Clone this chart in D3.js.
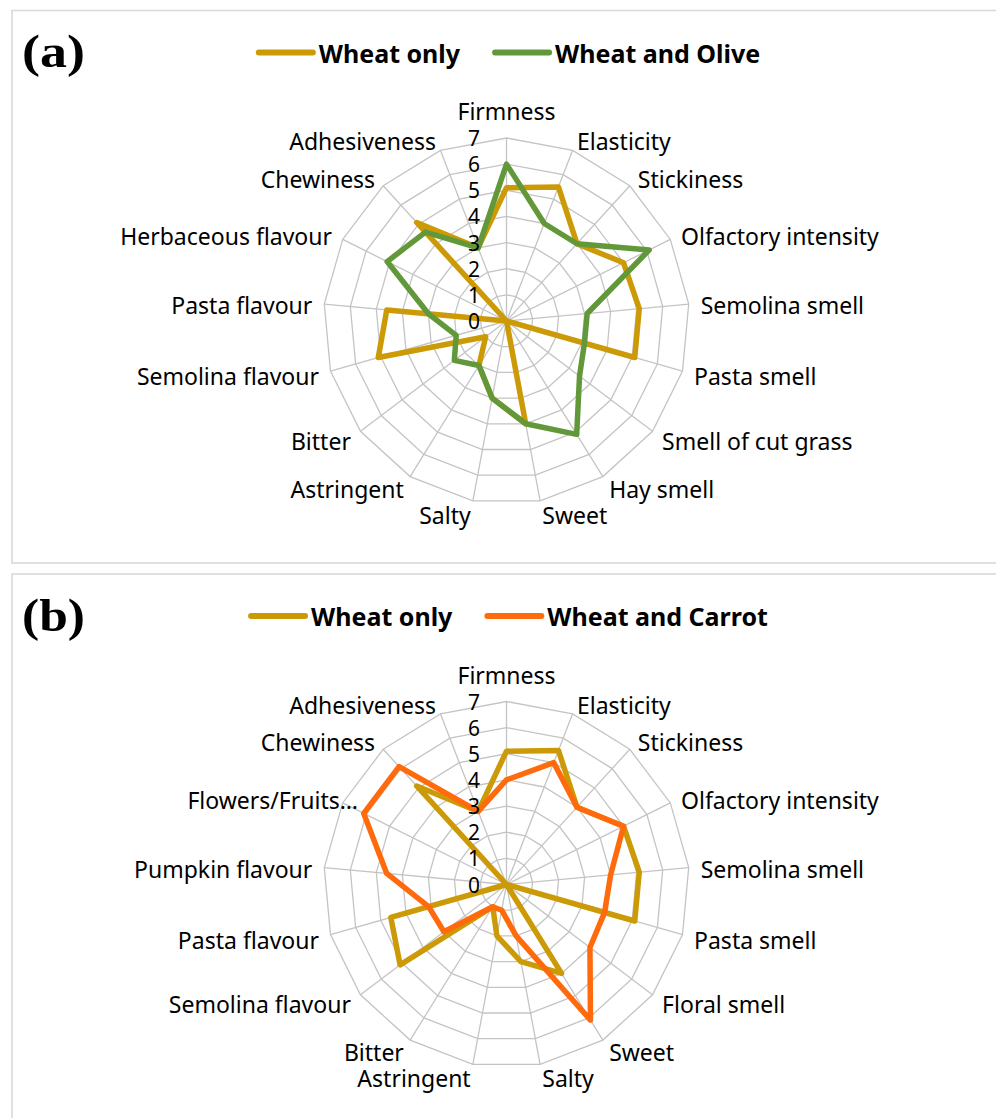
<!DOCTYPE html>
<html>
<head>
<meta charset="utf-8">
<script src="https://cdn.jsdelivr.net/npm/d3@7"></script>
<style>
  html, body { margin: 0; padding: 0; background: #ffffff; }
  svg { display: block; }
</style>
</head>
<body>
<script>
// Sensory profiles (0–7 scale) of the pasta samples
const axesA = ["Firmness", "Elasticity", "Stickiness", "Olfactory intensity", "Semolina smell",
  "Pasta smell", "Smell of cut grass", "Hay smell", "Sweet", "Salty", "Astringent", "Bitter",
  "Semolina flavour", "Pasta flavour", "Herbaceous flavour", "Chewiness", "Adhesiveness"];
const wheatOnlyA  = [5.1, 5.5, 4.0, 5.0, 5.1, 5.1, 0, 0, 4.0, 3.0, 2.0, 1.0, 5.1, 4.6, 0, 5.1, 3.0];
const wheatOliveA = [6.0, 4.0, 4.0, 6.1, 3.1, 3.1, 3.5, 5.1, 4.0, 3.0, 2.0, 2.5, 2.0, 3.0, 5.1, 4.6, 3.0];

const axesB = ["Firmness", "Elasticity", "Stickiness", "Olfactory intensity", "Semolina smell",
  "Pasta smell", "Floral smell", "Sweet", "Salty", "Astringent", "Bitter", "Semolina flavour",
  "Pasta flavour", "Pumpkin flavour", "Flowers/Fruits…", "Chewiness", "Adhesiveness"];
const wheatOnlyB   = [5.1, 5.5, 4.0, 5.0, 5.1, 5.1, 0, 4.0, 3.0, 2.0, 1.0, 5.1, 4.6, 0, 0, 5.1, 3.0];
const wheatCarrotB = [4.0, 5.0, 4.0, 5.0, 4.0, 3.9, 4.0, 6.1, 2.0, 1.0, 1.0, 3.0, 3.1, 4.6, 6.1, 6.1, 3.0];

const scaleTicks = [0, 1, 2, 3, 4, 5, 6, 7];

const GOLD = "#CC9A06", GREEN = "#62983A", ORANGE = "#FF6A0C";

const panels = [
  { tag: "(a)", top: 10.5, bottom: 563, axes: axesA,
    series: [ { name: "Wheat only", values: wheatOnlyA, color: GOLD },
              { name: "Wheat and Olive", values: wheatOliveA, color: GREEN } ] },
  { tag: "(b)", top: 574, bottom: 1130, axes: axesB,
    series: [ { name: "Wheat only", values: wheatOnlyB, color: GOLD },
              { name: "Wheat and Carrot", values: wheatCarrotB, color: ORANGE } ] }
];

const W = 996, H = 1118;
const R = 183;
const FONT = "'Noto Sans', 'Open Sans', sans-serif";

const svg = d3.select("body").append("svg")
  .attr("width", W).attr("height", H)
  .attr("viewBox", `0 0 ${W} ${H}`);

svg.append("rect").attr("width", W).attr("height", H).attr("fill", "#fff");

const r = d3.scaleLinear().domain([0, 7]).range([0, R]);

// a label that does not fit is shifted towards the plot
const labelNudge = { "Flowers/Fruits…": 26 };

panels.forEach(p => {
  const n = p.axes.length;
  const step = 2 * Math.PI / n;
  const cx = 506.5, cy = p.top + 310.5;

  // panel frame
  svg.append("rect")
    .attr("x", 12).attr("y", p.top)
    .attr("width", W + 20).attr("height", p.bottom - p.top)
    .attr("fill", "none").attr("stroke", "#d9d9d9").attr("stroke-width", 1.6);

  // panel tag
  svg.append("text")
    .attr("x", 22).attr("y", p.top + 41)
    .attr("dominant-baseline", "central")
    .attr("font-family", "'Liberation Serif', 'Times New Roman', serif")
    .attr("font-weight", "bold").attr("font-size", 46)
    .attr("textLength", 63).attr("lengthAdjust", "spacingAndGlyphs")
    .text(p.tag);

  // legend, centred over the radar
  const lg = svg.append("g");
  let x = 0;
  p.series.forEach(s => {
    const g = lg.append("g");
    g.append("line")
      .attr("x1", 3).attr("x2", 57).attr("y1", 0).attr("y2", 0)
      .attr("stroke", s.color).attr("stroke-width", 6).attr("stroke-linecap", "round");
    const t = g.append("text")
      .attr("x", 63).attr("y", 0)
      .attr("dominant-baseline", "central")
      .attr("font-family", FONT).attr("font-weight", "bold").attr("font-size", 25)
      .attr("fill", "#000")
      .text(s.name);
    const w = 63 + t.node().getComputedTextLength();
    g.attr("transform", `translate(${x},0)`);
    x += w + 32;
  });
  const total = x - 32;
  lg.attr("transform", `translate(${508 - total / 2},${p.top + 42})`);

  const chart = svg.append("g").attr("transform", `translate(${cx},${cy})`);

  // concentric rings
  const ring = d3.lineRadial()
    .angle((d, i) => i * step)
    .radius(d => r(d))
    .curve(d3.curveLinearClosed);
  chart.append("g").selectAll("path")
    .data(scaleTicks.filter(t => t > 0))
    .join("path")
      .attr("d", t => ring(d3.range(n).map(() => t)))
      .attr("fill", "none").attr("stroke", "#c4c4c4").attr("stroke-width", 1.3);

  // spokes
  chart.append("g").selectAll("line")
    .data(d3.range(n))
    .join("line")
      .attr("x1", 0).attr("y1", 0)
      .attr("x2", i => r(7) * Math.sin(i * step))
      .attr("y2", i => -r(7) * Math.cos(i * step))
      .attr("stroke", "#c4c4c4").attr("stroke-width", 1.3);

  // series polygons
  const line = d3.lineRadial()
    .angle((d, i) => i * step)
    .radius(d => r(d))
    .curve(d3.curveLinearClosed);
  p.series.forEach(s => {
    chart.append("path")
      .attr("d", line(s.values))
      .attr("fill", "none").attr("stroke", s.color)
      .attr("stroke-width", 5.5).attr("stroke-linejoin", "round");
  });

  // scale values along the top spoke
  chart.append("g").selectAll("text")
    .data(scaleTicks)
    .join("text")
      .attr("x", -26.5).attr("y", t => -r(t))
      .attr("text-anchor", "end").attr("dominant-baseline", "central")
      .attr("font-family", FONT).attr("font-size", 21).attr("fill", "#000")
      .text(t => t);

  // category labels
  chart.append("g").selectAll("text")
    .data(p.axes)
    .join("text")
      .each(function (name, i) {
        const a = i * step, s = Math.sin(a), c = Math.cos(a);
        const rr = R + 12;
        let px = rr * s, py = -rr * c + 2, anchor;
        if (Math.abs(s) < 0.05) { anchor = "middle"; py = -rr * c - 15; }
        else anchor = s > 0 ? "start" : "end";
        px += labelNudge[name] || 0;
        d3.select(this)
          .attr("x", px).attr("y", py)
          .attr("text-anchor", anchor).attr("dominant-baseline", "central");
      })
      .attr("font-family", FONT).attr("font-size", 23).attr("fill", "#000")
      .text(d => d);
});
</script>
</body>
</html>
